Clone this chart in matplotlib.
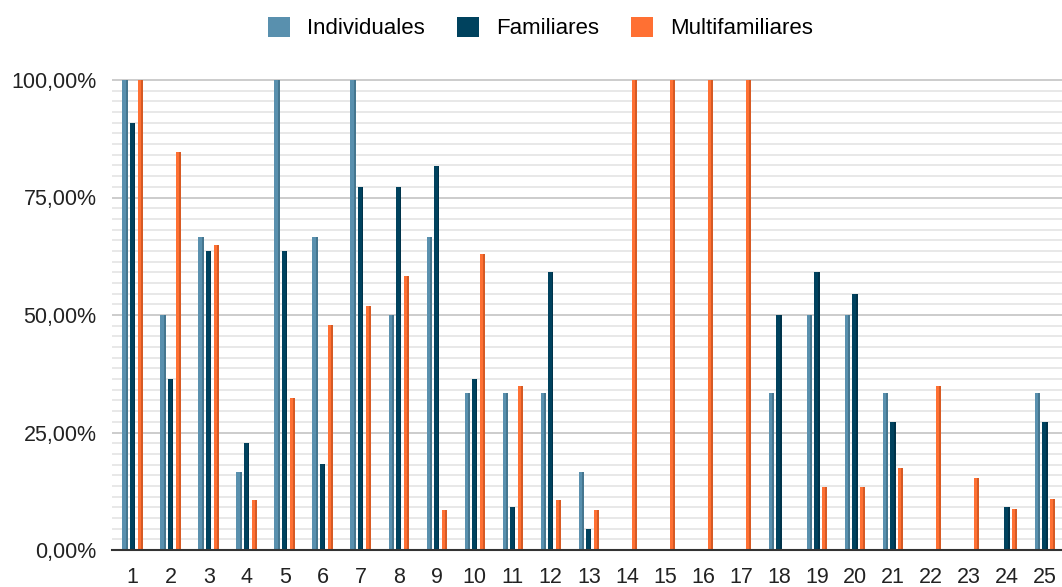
import matplotlib.pyplot as plt
import numpy as np
from matplotlib.ticker import FuncFormatter, MultipleLocator
from matplotlib.patches import Patch

plt.rcParams['font.family'] = ['Liberation Sans', 'DejaVu Sans']

# Data (percentages)
grupos = [str(i) for i in range(1, 26)]
individuales = [100, 50, 66.7, 16.7, 100, 66.7, 100, 50, 66.7, 33.3, 33.3, 33.3, 16.7,
                0, 0, 0, 0, 33.3, 50, 50, 33.3, 0, 0, 0, 33.3]
familiares = [90.9, 36.4, 63.6, 22.7, 63.6, 18.2, 77.3, 77.3, 81.8, 36.4, 9.1, 59.1, 4.5,
              0, 0, 0, 0, 50, 59.1, 54.5, 27.3, 0, 0, 9.1, 27.3]
multifamiliares = [100, 84.6, 65, 10.6, 32.3, 47.9, 51.9, 58.4, 8.5, 63, 34.8, 10.6, 8.5,
                   100, 100, 100, 100, 0, 13.3, 13.3, 17.4, 34.8, 15.3, 8.7, 10.9]

series = ['Individuales', 'Familiares', 'Multifamiliares']
colores = ['#5990ae', '#00425e', '#ff7033']
sombras = ['#45768f', '#00334a', '#d65a24']

W, H = 1062, 587
fig = plt.figure(figsize=(W / 100, H / 100), dpi=100)
# axes: 0% at y=550 px, 100% at y=80 px
top_val = 100.6
h_px = 470 * top_val / 100
ax = fig.add_axes([112 / W, (H - 550) / H, (W - 112) / W, h_px / H])

x = np.arange(1, 26)
ancho = 0.14
desp = 0.2
franja = ancho * 0.35
for k, (vals, col, som) in enumerate(zip([individuales, familiares, multifamiliares], colores, sombras)):
    pos = x + (k - 1) * desp
    ax.bar(pos, vals, width=ancho, color=col, zorder=3, linewidth=0)
    # darker right edge, like the 3D look of the original
    ax.bar(pos + ancho / 2 - franja / 2, vals, width=franja, color=som, zorder=3, linewidth=0)

ax.set_xlim(0.455, 25.45)
ax.set_ylim(0, top_val)

ax.yaxis.set_major_locator(MultipleLocator(25))
ax.yaxis.set_minor_locator(MultipleLocator(25 / 11))
ax.yaxis.set_major_formatter(FuncFormatter(lambda v, p: f'{v:.2f}'.replace('.', ',') + '%'))
ax.grid(axis='y', which='major', color='#cccccc', linewidth=1.4, zorder=0)
ax.grid(axis='y', which='minor', color='#e8e8e8', linewidth=1.4, zorder=0)
ax.grid(axis='x', visible=False)

ax.set_xticks(x)
ax.set_xticklabels(grupos)
ax.tick_params(axis='x', length=0, pad=12, labelsize=15.5, colors='#222222')
ax.tick_params(axis='y', which='both', length=0, pad=11, labelsize=15.5, colors='#222222')

for s in ['top', 'right', 'left']:
    ax.spines[s].set_visible(False)
ax.spines['bottom'].set_color('#333333')
ax.spines['bottom'].set_linewidth(1.5)
ax.spines['bottom'].set_zorder(4)

handles = [Patch(facecolor=c, edgecolor='none') for c in colores]
fig.legend(handles, series, loc='center', bbox_to_anchor=(0.509, 1 - 28 / H), ncol=3,
           frameon=False, fontsize=16, handlelength=1.0, handleheight=1.0,
           handletextpad=0.75, columnspacing=1.45)

fig.savefig('out.png', dpi=100)
